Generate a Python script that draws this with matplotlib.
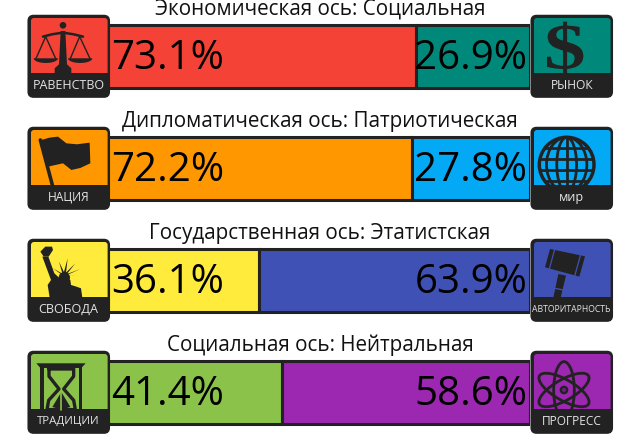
import matplotlib
matplotlib.use("Agg")
import matplotlib.pyplot as plt
import numpy as np
from matplotlib.patches import Circle, Ellipse, FancyBboxPatch, PathPatch, Polygon, Rectangle
from matplotlib.path import Path
from matplotlib.textpath import TextPath
from matplotlib.font_manager import FontProperties

# data
titles = ["Экономическая ось: Социальная", "Дипломатическая ось: Патриотическая",
          "Государственная ось: Этатистская", "Социальная ось: Нейтральная"]
left_values = [73.1, 72.2, 36.1, 41.4]
right_values = [26.9, 27.8, 63.9, 58.6]
left_labels = ["РАВЕНСТВО", "НАЦИЯ", "СВОБОДА", "ТРАДИЦИИ"]
right_labels = ["РЫНОК", "мир", "АВТОРИТАРНОСТЬ", "ПРОГРЕСС"]
left_colors = ["#F44336", "#FF9800", "#FFEB3B", "#8BC34A"]
right_colors = ["#00897B", "#03A9F4", "#3F51B5", "#9C27B0"]

DARK = "#222222"
plt.rcParams["font.family"] = ["Open Sans", "DejaVu Sans"]

fig = plt.figure(figsize=(6.4, 4.48), dpi=100)

# bars, the left end sits under the icons
row_gap = 112
first_row = 56.7
ax = fig.add_axes([106 / 640, 0, 424 / 640, 1])
y = np.arange(len(titles))
ax.barh(y, left_values, height=63.5 / row_gap, color=left_colors, edgecolor=DARK, linewidth=2.2)
ax.barh(y, right_values, left=left_values, height=63.5 / row_gap, color=right_colors,
        edgecolor=DARK, linewidth=2.2)
ax.set_xlim(0, 100)
ax.set_ylim((448 - first_row) / row_gap, -first_row / row_gap)
ax.axis("off")

# overlay in pixels for the icons and texts
ov = fig.add_axes([0, 0, 1, 1])
ov.set_xlim(0, 640)
ov.set_ylim(448, 0)
ov.axis("off")


class Icon:
    # glyph coordinates are 3x pixels from the icon's top left corner
    def __init__(self, x0, y0):
        self.x0, self.y0 = x0, y0

    def pts(self, p):
        return [(self.x0 + a / 3, self.y0 + b / 3) for a, b in p]

    def poly(self, p, color=DARK, **kw):
        patch = Polygon(self.pts(p), closed=True, fc=color, ec="none", **kw)
        ov.add_patch(patch)
        return patch

    def line(self, p, lw=2, color=DARK):
        xy = np.array(self.pts(p))
        return ov.plot(xy[:, 0], xy[:, 1], color=color, lw=lw, solid_capstyle="round")[0]

    def circle(self, cx, cy, r, fc=DARK, ec="none", lw=0):
        patch = Circle(self.pts([(cx, cy)])[0], r / 3, fc=fc, ec=ec, lw=lw)
        ov.add_patch(patch)
        return patch


def scales(ic, col):
    ic.circle(108, 33, 10)
    ic.poly([(101, 50), (115, 50), (120, 150), (133, 162), (133, 178), (83, 178), (83, 162), (96, 150)])
    ic.line([(48, 67), (75, 60), (108, 55), (140, 60), (168, 67)], lw=1.8)
    for cx, a, b in [(56, 20, 93), (158, 123, 196)]:
        ic.line([(a + 6, 135), (cx, 67), (b - 6, 135)], lw=1)
        t = np.linspace(0, np.pi, 20)
        ic.poly([((a + b) / 2 + (b - a) / 2 * np.cos(v), 132 + 14 * np.sin(v)) for v in t])


def flag(ic, col):
    ic.poly([(43, 41), (68, 34), (93, 31), (118, 51), (150, 54), (188, 49), (190, 111), (160, 125),
             (133, 131), (108, 111), (63, 121)])
    ic.line([(40, 41), (76, 176)], lw=2.6)


def liberty(ic, col):
    ic.poly([(40, 40), (55, 25), (75, 25), (78, 35), (65, 55), (50, 55)])
    ic.poly([(46, 55), (64, 55), (82, 105), (100, 122), (118, 118), (130, 125), (132, 140), (148, 145),
             (162, 150), (166, 178), (68, 178), (62, 140), (72, 125)])
    ic.circle(112, 118, 17)
    for tx, ty in [(78, 90), (96, 70), (122, 60), (145, 75), (160, 92), (150, 110)]:
        ic.poly([(108, 112), (tx, ty), (116, 112)])


def hourglass(ic, col):
    ic.poly([(28, 39), (176, 39), (163, 53), (40, 53)])
    ic.poly([(40, 50), (50, 50), (50, 178), (40, 178)])
    ic.poly([(156, 50), (166, 50), (166, 178), (156, 178)])
    outline = [(66, 56), (140, 56), (140, 78), (110, 116), (140, 150), (145, 178), (60, 178), (65, 150),
               (96, 116), (66, 78)]
    ic.line(outline + outline[:1], lw=2.4)
    ic.poly([(103, 125), (130, 170), (103, 178), (76, 170)])
    ic.line([(103, 125), (103, 178)], lw=1.2, color=col)


def dollar(ic, col):
    tp = TextPath((0, 0), "$", size=100, prop=FontProperties(family="Liberation Serif", weight="bold"))
    v = tp.vertices
    lo, hi = v.min(axis=0), v.max(axis=0)
    sx = (160 - 42) / (hi[0] - lo[0])
    sy = (177 - 22) / (hi[1] - lo[1])
    new = np.column_stack([42 + (v[:, 0] - lo[0]) * sx, 177 - (v[:, 1] - lo[1]) * sy])
    ov.add_patch(PathPatch(Path(ic.pts(new), tp.codes), fc=DARK, ec="none"))


def globe(ic, col):
    c = ic.circle(110, 115, 82, fc="none", ec=DARK, lw=2.5)
    center = ic.pts([(110, 115)])[0]
    for w in [27, 55]:
        e = Ellipse(center, w * 2 / 3 * 1.1, 164 / 3, fc="none", ec=DARK, lw=2)
        ov.add_patch(e)
    parts = [ov.plot([center[0], center[0]], [center[1] - 27, center[1] + 27], color=DARK, lw=2)[0]]
    for dy in [-50, -17, 17, 50]:
        yy = center[1] + dy / 3 * 1.0
        parts.append(ov.plot([center[0] - 27, center[0] + 27], [yy, yy], color=DARK, lw=2)[0])
    clip = Circle(center, 82 / 3, transform=ov.transData)
    for p in parts:
        p.set_clip_path(clip)


def gavel(ic, col):
    corners = np.array([(60, 32), (165, 54), (148, 115), (45, 87)], dtype=float)
    ic.poly(corners)
    ic.poly([(85, 107), (108, 112), (92, 178), (70, 178)])
    for f in [0.13, 0.87]:
        a = corners[0] + (corners[1] - corners[0]) * f
        b = corners[3] + (corners[2] - corners[3]) * f
        ic.line([a, b], lw=0.9, color=col)
    ic.line([(74, 150), (100, 155)], lw=0.9, color=col)


def atom(ic, col):
    center = ic.pts([(102, 119)])[0]
    for ang in [30, 90, 150]:
        ov.add_patch(Ellipse(center, 170 / 3, 62 / 3, angle=ang, fc="none", ec=DARK, lw=2))
    ic.circle(102, 119, 13)
    ic.circle(102, 119, 6, fc="#6a2478")


def draw_icon(x0, y0, color, label, glyph, label_width):
    ov.add_patch(FancyBboxPatch((x0 + 1.5, y0 + 1.5), 80.5, 81, boxstyle="round,pad=0,rounding_size=5",
                                fc=DARK, ec=DARK, lw=1.5))
    ov.add_patch(FancyBboxPatch((x0 + 4, y0 + 3.7), 76.6, 60, boxstyle="round,pad=0,rounding_size=3",
                                fc=color, ec="none"))
    ic = Icon(x0, y0)
    glyph(ic, color)
    ov.add_patch(Rectangle((x0 + 3, y0 + 59), 78, 24, fc=DARK, ec="none"))
    t = ov.text(x0 + 41.7, y0 + 71, label, ha="center", va="center", color="#e4e4e4", fontsize=10,
                fontweight="medium")
    # long labels are shrunk so they stay inside the icon
    w = t.get_window_extent(fig.canvas.get_renderer()).width
    t.set_fontsize(min(10, 10 * label_width / w))


left_glyphs = [scales, flag, liberty, hourglass]
right_glyphs = [dollar, globe, gavel, atom]
left_widths = [72, 42, 60, 63]
right_widths = [43, 25, 78, 60]

for i in range(len(titles)):
    cy = first_row + i * row_gap
    ov.text(320, cy - 47.3, titles[i], ha="center", va="center", fontsize=14.85, color="#111111")
    ov.text(111, cy + 2.3, f"{left_values[i]}%", ha="left", va="center", fontsize=29, color="#000000")
    ov.text(527.5, cy + 2.3, f"{right_values[i]}%", ha="right", va="center", fontsize=29, color="#000000")
    y0 = 14.3 + i * row_gap
    draw_icon(27, y0, left_colors[i], left_labels[i], left_glyphs[i], left_widths[i])
    draw_icon(530, y0, right_colors[i], right_labels[i], right_glyphs[i], right_widths[i])

fig.savefig("out.png", dpi=100)
